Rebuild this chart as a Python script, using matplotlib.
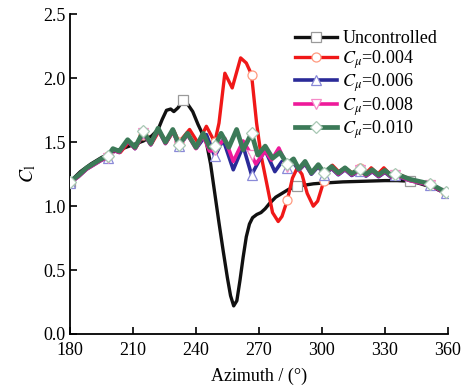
import numpy as np
import matplotlib
matplotlib.use("Agg")
import matplotlib.pyplot as plt

plt.rcParams['font.family'] = ['Liberation Serif', 'DejaVu Serif']
plt.rcParams['mathtext.fontset'] = 'stix'

# ---------------- data ----------------
unc_az = [180, 185, 190, 195, 200, 205, 210, 215, 219, 222, 224, 226, 228, 229.5, 231.5, 234, 236, 238.5,
          241, 243, 245, 247, 249, 251, 253, 255, 256.5, 258, 259.5, 261, 262.5, 264, 265.5, 267, 269, 271,
          273, 275, 278, 281, 284, 288, 292, 296, 300, 310, 320, 330, 336, 342, 346, 350, 355, 359]
unc_c = [1.19, 1.27, 1.33, 1.38, 1.42, 1.45, 1.48, 1.51, 1.55, 1.60, 1.68, 1.75, 1.76, 1.74, 1.77, 1.83, 1.80, 1.74,
         1.64, 1.57, 1.50, 1.33, 1.10, 0.87, 0.65, 0.44, 0.30, 0.22, 0.26, 0.42, 0.60, 0.76, 0.86, 0.91, 0.935, 0.95,
         0.98, 1.02, 1.07, 1.10, 1.13, 1.155, 1.165, 1.175, 1.18, 1.19, 1.195, 1.20, 1.20, 1.195, 1.18, 1.16, 1.13, 1.10]
unc_mk = [180, 234, 288, 342]

c004_az = [180, 184, 188, 192, 195, 198, 200.5, 204, 208, 211.5, 215, 219, 222.5, 226, 229.5, 232, 237, 241, 245,
           249, 251, 253.8, 257.3, 261.3, 264, 266.5, 268.9, 271, 273.7, 276.5, 279.2, 281, 283.5, 286, 288.3,
           290.5, 293, 295.9, 298, 301, 303, 305, 308, 311, 314.5, 318, 320.5, 323.5, 326.5, 329.5, 332.5, 335,
           338, 342, 346, 351.5, 355, 359]
c004_c = [1.19, 1.24, 1.30, 1.34, 1.37, 1.39, 1.44, 1.42, 1.50, 1.46, 1.56, 1.49, 1.59, 1.50, 1.59, 1.50, 1.60, 1.495, 1.625,
          1.50, 1.65, 2.04, 1.925, 2.16, 2.12, 2.03, 1.65, 1.40, 1.18, 0.95, 0.88, 0.92, 1.045, 1.22, 1.30,
          1.25, 1.10, 1.00, 1.04, 1.20, 1.28, 1.32, 1.27, 1.30, 1.26, 1.30, 1.25, 1.30, 1.25, 1.30, 1.25, 1.255,
          1.24, 1.21, 1.195, 1.17, 1.14, 1.10]

c006_az = [180, 184, 188, 192, 195, 198, 200.5, 203.5, 207.5, 211, 215, 218.5, 222, 225.5, 229, 232, 236, 240.3,
           245, 249, 253, 257.8, 262.5, 266.5, 272.9, 277.6, 281, 283.5, 286.5, 289, 292, 295, 298.3, 301,
           304.6, 307.8, 311, 314.2, 318, 321, 324, 327, 330, 333, 335, 338, 342, 346, 351.5, 355, 359]
c006_c = [1.18, 1.23, 1.29, 1.33, 1.36, 1.38, 1.44, 1.42, 1.51, 1.45, 1.57, 1.48, 1.60, 1.49, 1.59, 1.47, 1.56, 1.455,
          1.56, 1.39, 1.52, 1.285, 1.47, 1.245, 1.44, 1.27, 1.35, 1.30, 1.34, 1.28, 1.33, 1.25, 1.31, 1.245,
          1.295, 1.245, 1.285, 1.24, 1.275, 1.235, 1.27, 1.23, 1.265, 1.225, 1.24, 1.22, 1.20, 1.185, 1.165, 1.135, 1.10]

c008_az = [180, 184, 188, 192, 195, 198, 200.5, 203.5, 207.5, 211, 215, 218.5, 222, 225.5, 229, 232, 236, 240,
           243.5, 246.5, 249, 253.8, 257.8, 262.5, 266.5, 268.5, 273, 276, 279.5, 283.5, 286.5, 289, 292, 295,
           298.3, 301, 304.6, 307.8, 311, 314.2, 318, 321, 324, 327, 330, 333, 335, 338, 342, 346, 351.5, 355, 359]
c008_c = [1.18, 1.23, 1.29, 1.33, 1.36, 1.38, 1.44, 1.42, 1.51, 1.45, 1.57, 1.48, 1.60, 1.49, 1.59, 1.47, 1.56, 1.45,
          1.55, 1.43, 1.44, 1.53, 1.35, 1.51, 1.40, 1.33, 1.43, 1.36, 1.455, 1.31, 1.36, 1.28, 1.34, 1.255,
          1.32, 1.25, 1.30, 1.25, 1.29, 1.245, 1.28, 1.24, 1.275, 1.235, 1.27, 1.23, 1.245, 1.225, 1.20, 1.185, 1.165, 1.135, 1.10]

c010_az = [180, 184, 188, 192, 195, 198, 200.5, 203.5, 207.5, 211, 215, 218.5, 222, 225.5, 229, 232, 236, 240,
           243.5, 246.5, 249, 252, 255.7, 259.4, 262.5, 266.5, 269.5, 273, 276.5, 280, 283.5, 286.5, 289, 292,
           295, 298.3, 301, 304.6, 307.8, 311, 314.2, 318, 321, 324, 327, 330, 333, 335, 338, 342, 346, 351.5, 355, 359]
c010_c = [1.19, 1.24, 1.30, 1.34, 1.37, 1.39, 1.45, 1.43, 1.52, 1.46, 1.585, 1.49, 1.61, 1.50, 1.60, 1.48, 1.57, 1.46,
          1.57, 1.46, 1.47, 1.57, 1.46, 1.60, 1.44, 1.57, 1.40, 1.47, 1.375, 1.42, 1.33, 1.37, 1.29, 1.35,
          1.26, 1.325, 1.26, 1.31, 1.26, 1.30, 1.255, 1.29, 1.25, 1.285, 1.245, 1.28, 1.24, 1.255, 1.235, 1.21, 1.195, 1.175, 1.145, 1.11]

ctrl_mk = [180, 198, 215, 232, 249, 266.5, 283.5, 301, 318, 335, 351.5, 359]

labels = ['Uncontrolled', r'$C_{\mu}$=0.004', r'$C_{\mu}$=0.006', r'$C_{\mu}$=0.008', r'$C_{\mu}$=0.010']
xticks = [180, 210, 240, 270, 300, 330, 360]
yticks = [0.0, 0.5, 1.0, 1.5, 2.0, 2.5]

# ---------------- plotting ----------------
fig = plt.figure(figsize=(4.69, 3.85), dpi=100)
ax = fig.add_axes([0.149, 0.1325, 0.806, 0.83])

series = [
    (unc_az, unc_c, unc_mk, '#111111', '#9a9a9a', 's', 2.4),
    (c004_az, c004_c, ctrl_mk, '#f01818', '#ff9a80', 'o', 2.4),
    (c006_az, c006_c, ctrl_mk, '#2a2a98', '#8a8ad8', '^', 2.6),
    (c008_az, c008_c, ctrl_mk, '#ee1a9a', '#f58ac8', 'v', 2.6),
    (c010_az, c010_c, ctrl_mk, '#3c7a58', '#a8c8b4', 'D', 3.4),
]
for (az, c, mk, col, mcol, m, lw), lab in zip(series, labels):
    idx = [i for i, a in enumerate(az) if a in mk]
    ms = 6.5 if m != 'D' else 6
    ax.plot(az, c, color=col, lw=lw, marker=m, markevery=idx, ms=ms,
            mfc='white', mec=mcol, mew=0.9, label=lab, zorder=3)

ax.set_xlim(180, 360)
ax.set_ylim(0, 2.5)
ax.set_xticks(xticks)
ax.set_yticks(yticks)
ax.set_yticklabels([f'{v:.1f}' for v in yticks])
ax.spines['top'].set_visible(False)
ax.spines['right'].set_visible(False)
for s in ['left', 'bottom']:
    ax.spines[s].set_linewidth(1.3)
ax.tick_params(direction='in', length=5, width=1.2, labelsize=13)
ax.tick_params(axis='x', pad=6)
ax.tick_params(axis='y', pad=3)
ax.set_xlabel('Azimuth / (°)', fontsize=13, labelpad=6)
ax.set_ylabel(r'$C_\mathrm{l}$', fontsize=14, labelpad=4)

leg = ax.legend(loc='upper right', bbox_to_anchor=(1.0, 0.985), frameon=False, fontsize=13,
                handlelength=2.3, handletextpad=0.3, labelspacing=0.05, borderaxespad=0.2)

fig.savefig('out.png', dpi=100)
